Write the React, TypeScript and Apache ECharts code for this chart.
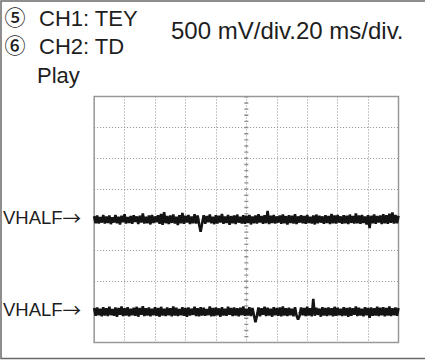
import React, { useEffect, useRef } from "react";
import * as echarts from "echarts";

// Graticule: 10 horizontal divisions (20 ms/div, 1 sample per ms), 8 vertical divisions
const TIME_MAX_MS = 200;
const TIME_DIV_MS = 20;
const VOLT_DIVS = 8;
const CENTER_TIME = 100;
const CENTER_VOLT = 4;
const VHALF_LEVELS = [4, 1];

const HEADER_LEFT = [
  { mark: "⑤", text: "CH1: TEY" },
  { mark: "⑥", text: "CH2: TD" },
  { mark: "", text: "Play" },
];
const HEADER_RIGHT = "500 mV/div.20 ms/div.";

// CH1 trace (divisions from bottom), one sample per ms
const ch1 = [
  4.11, 3.88, 4.13, 3.87, 4.08, 3.9, 4.15, 3.87, 4.1, 3.89,
  4.13, 3.85, 4.07, 3.9, 4.15, 3.88, 4.09, 3.84, 4.12, 3.91,
  4.17, 3.87, 4.08, 3.89, 4.11, 3.86, 4.14, 3.92, 4.1, 3.85,
  4.12, 3.9, 4.2, 3.87, 4.09, 3.88, 4.13, 3.84, 4.15, 3.89,
  4.1, 3.91, 4.14, 3.86, 4.18, 3.83, 4.24, 3.88, 4.11, 3.85,
  4.13, 3.89, 4.16, 3.87, 4.09, 3.82, 4.14, 3.88, 4.21, 3.86,
  4.12, 3.9, 4.15, 3.85, 4.1, 3.88, 4.17, 3.87, 4.13, 3.84,
  3.6, 3.89, 4.14, 3.86, 4.11, 3.91, 4.16, 3.88, 4.09, 3.85,
  4.14, 3.87, 4.12, 3.9, 4.18, 3.86, 4.1, 3.89, 4.15, 3.83,
  4.11, 3.88, 4.13, 3.85, 4.16, 3.9, 4.09, 3.87, 4.14, 3.86,
  4.12, 3.89, 4.15, 3.84, 4.1, 3.88, 4.13, 3.87, 4.17, 3.9,
  4.11, 3.86, 4.14, 3.88, 4.28, 3.85, 4.12, 3.89, 4.15, 3.87,
  4.1, 3.9, 4.13, 3.86, 4.16, 3.88, 4.11, 3.84, 4.14, 3.89,
  4.12, 3.87, 4.17, 3.85, 4.1, 3.9, 4.14, 3.88, 4.11, 3.86,
  4.15, 3.89, 4.09, 3.87, 4.13, 3.84, 4.16, 3.88, 4.12, 3.9,
  4.1, 3.86, 4.14, 3.89, 4.11, 3.85, 4.18, 3.88, 4.13, 3.87,
  4.15, 3.9, 4.1, 3.86, 4.14, 3.88, 4.12, 3.85, 4.16, 3.89,
  4.11, 3.87, 4.2, 3.88, 4.13, 3.86, 4.15, 3.89, 4.1, 3.84,
  4.14, 3.72, 4.12, 3.88, 4.16, 3.86, 4.11, 3.9, 4.13, 3.85,
  4.17, 3.88, 4.14, 3.86, 4.19, 3.89, 4.23, 3.87, 4.15, 3.88,
  4.12,
];

// CH2 trace (divisions from bottom)
const ch2 = [
  1.12, 0.87, 1.14, 0.89, 1.1, 0.85, 1.15, 0.88, 1.11, 0.86,
  1.16, 0.89, 1.09, 0.87, 1.14, 0.84, 1.12, 0.9, 1.17, 0.86,
  1.11, 0.88, 1.15, 0.85, 1.1, 0.89, 1.13, 0.87, 1.16, 0.84,
  1.12, 0.9, 1.18, 0.86, 1.11, 0.88, 1.14, 0.85, 1.1, 0.89,
  1.15, 0.87, 1.12, 0.84, 1.16, 0.88, 1.1, 0.86, 1.14, 0.89,
  1.11, 0.85, 1.17, 0.88, 1.13, 0.86, 1.09, 0.89, 1.15, 0.87,
  1.12, 0.84, 1.14, 0.88, 1.1, 0.9, 1.16, 0.86, 1.11, 0.85,
  1.15, 0.88, 1.13, 0.87, 1.09, 0.89, 1.17, 0.85, 1.12, 0.86,
  1.14, 0.89, 1.11, 0.84, 1.15, 0.88, 1.1, 0.87, 1.16, 0.9,
  1.12, 0.86, 1.14, 0.88, 1.11, 0.85, 1.13, 0.89, 1.17, 0.87,
  1.1, 0.88, 1.15, 0.86, 1.12, 0.89, 0.66, 0.87, 1.14, 0.85,
  1.11, 0.9, 1.16, 0.86, 1.13, 0.88, 1.1, 0.84, 1.15, 0.89,
  1.12, 0.87, 1.14, 0.85, 1.17, 0.88, 1.11, 0.86, 1.13, 0.89,
  1.1, 0.85, 1.15, 0.88, 0.75, 0.87, 1.14, 0.89, 1.12, 0.86,
  1.16, 0.88, 1.11, 0.85, 1.42, 0.87, 1.13, 0.9, 1.1, 0.84,
  1.15, 0.88, 1.12, 0.86, 1.14, 0.89, 1.11, 0.85, 1.16, 0.87,
  1.13, 0.89, 1.1, 0.86, 1.15, 0.88, 1.12, 0.84, 1.14, 0.87,
  1.11, 0.9, 1.17, 0.86, 1.13, 0.88, 1.1, 0.85, 1.15, 0.89,
  1.12, 0.8, 1.14, 0.87, 1.11, 0.88, 1.16, 0.86, 1.13, 0.89,
  1.15, 0.85, 1.12, 0.88, 1.17, 0.86, 1.11, 0.89, 1.14, 0.87,
  1.12,
];

const FONT = '"Liberation Sans", Arial, "Noto Sans CJK JP", sans-serif';
const CJK = '"Noto Sans CJK JP", sans-serif';
const GRID_COLOR = "#8f8f8f";
const TRACE_COLOR = "#141414";
const TEXT_COLOR = "#1e1e1e";

export default function App() {
  const ref = useRef<HTMLDivElement>(null);

  useEffect(() => {
    if (!ref.current) return;
    const chart = echarts.init(ref.current, null, { renderer: "svg" });

    const textStyle = (text: string, x: number, y: number, size: number, family: string, align = "left") => ({
      text,
      x,
      y,
      fontSize: size,
      fontFamily: family,
      fill: TEXT_COLOR,
      textAlign: align,
      textVerticalAlign: "middle",
      align,
      verticalAlign: "middle",
    });

    const graphics: any[] = [
      {
        type: "polyline",
        silent: true,
        shape: { points: [[425, 1], [1, 1], [1, 358.5], [425, 358.5]] },
        style: { stroke: "#6a6a6a", lineWidth: 1.5, fill: null },
      },
    ];
    HEADER_LEFT.forEach((h, i) => {
      const cy = 18 + i * 28.5;
      if (h.mark) {
        graphics.push({
          type: "text",
          silent: true,
          style: { ...textStyle(h.mark, 15, cy - 2.5, 21, CJK, "center"), fontWeight: 500 },
        });
      }
      graphics.push({
        type: "text",
        silent: true,
        style: textStyle(h.text, i === 2 ? 37 : 39, cy, 22, FONT),
      });
    });
    graphics.push({
      type: "text",
      silent: true,
      style: textStyle(HEADER_RIGHT, 171, 30, 24, FONT),
    });

    const splitStyle = { color: GRID_COLOR, type: [1, 2], width: 1 };

    const traceSeries = (name: string, values: number[]) => ({
      name,
      type: "line",
      silent: true,
      symbol: "none",
      z: 3,
      data: values.map((v, i) => [i, v]),
      lineStyle: { width: 2.6, color: TRACE_COLOR, join: "bevel" },
    });

    chart.setOption({
      animation: false,
      backgroundColor: "#ffffff",
      grid: {
        left: 90.5,
        top: 96.5,
        width: 308,
        height: 246,
        show: true,
        borderColor: "#9c9c9c",
        borderWidth: 1.5,
        backgroundColor: "transparent",
      },
      xAxis: {
        type: "value",
        min: 0,
        max: TIME_MAX_MS,
        interval: TIME_DIV_MS,
        axisLine: { show: false },
        axisTick: { show: false },
        axisLabel: { show: false },
        splitLine: { show: true, lineStyle: splitStyle },
      },
      yAxis: {
        type: "value",
        min: 0,
        max: VOLT_DIVS,
        interval: 1,
        axisLine: { show: false },
        axisTick: { show: false },
        splitLine: { show: true, lineStyle: splitStyle },
        axisLabel: {
          margin: 13,
          padding: [0, 0, 5, 0],
          formatter: (v: number) =>
            VHALF_LEVELS.includes(v) ? "{a|VHALF}{b|→}" : "",
          rich: {
            a: { fontSize: 18.5, fontFamily: FONT, color: TEXT_COLOR },
            b: { fontSize: 18.5, fontFamily: CJK, color: TEXT_COLOR },
          },
        },
      },
      series: [
        {
          type: "line",
          silent: true,
          symbol: "none",
          z: 1,
          data: [
            [CENTER_TIME, 0],
            [CENTER_TIME, VOLT_DIVS],
          ],
          lineStyle: { width: 4, color: GRID_COLOR, type: [1.4, 4.75], dashOffset: 0.7 },
        },
        {
          type: "line",
          silent: true,
          symbol: "none",
          z: 1,
          data: [
            [0, CENTER_VOLT],
            [TIME_MAX_MS, CENTER_VOLT],
          ],
          lineStyle: { width: 4, color: GRID_COLOR, type: [1.4, 4.76], dashOffset: 0.7 },
        },
        traceSeries("CH1", ch1),
        traceSeries("CH2", ch2),
      ],
      graphic: graphics,
    });

    return () => chart.dispose();
  }, []);

  return (
    <div style={{ position: "fixed", left: 0, top: 0, width: 425, height: 360, background: "#fff" }}>
      <div ref={ref} style={{ width: 425, height: 360 }} />
    </div>
  );
}
